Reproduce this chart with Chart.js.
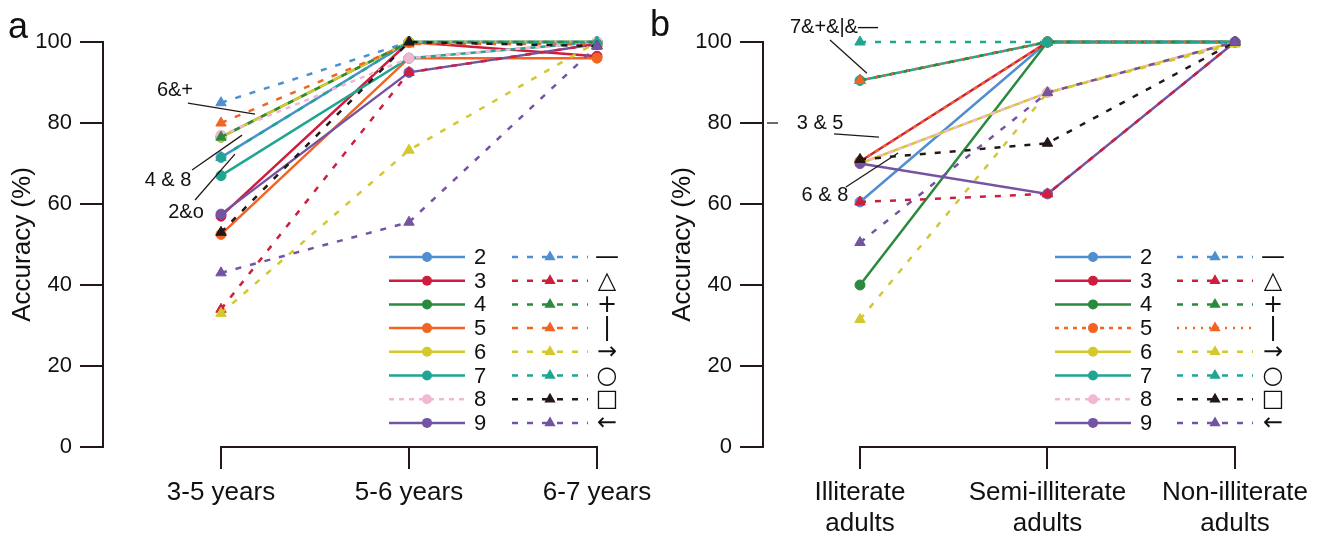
<!DOCTYPE html>
<html>
<head>
<meta charset="utf-8">
<script src="https://cdn.jsdelivr.net/npm/chart.js@4"></script>
<style>
  body { margin: 0; background: #fff; }
  #wrap { position: relative; width: 1322px; height: 539px; overflow: hidden; }
  canvas { position: absolute; top: 0; }
  .tag { position: absolute; font-family: 'Liberation Sans', Arial, sans-serif; font-size: 36px; color: #111; line-height: 1; }
</style>
</head>
<body>
<div id="wrap">
  <canvas id="chartA" width="660" height="539" style="left:0"></canvas>
  <canvas id="chartB" width="662" height="539" style="left:660px"></canvas>
  <div class="tag" style="left:8px;top:8px">a</div>
  <div class="tag" style="left:650px;top:6px">b</div>
</div>
<script>
// categories
const groupsA = ['3-5 years', '5-6 years', '6-7 years'];
const groupsB = [['Illiterate', 'adults'], ['Semi-illiterate', 'adults'], ['Non-illiterate', 'adults']];
const yTicks = [0, 20, 40, 60, 80, 100];

// series names: solid lines with circles, dashed lines with triangles
const numberLabels = ['2', '3', '4', '5', '6', '7', '8', '9'];
const symbolLabels = ['—', '△', '+', '|', '→', '○', '□', '←'];

// panel a values (accuracy %), one row per series
const numbersA = [
  [71.5, 100, 100],
  [57, 100, 96.5],
  [76.5, 100, 100],
  [52.5, 96, 96],
  [76.5, 100, 100],
  [67, 96, 100],
  [77, 96, 100],
  [57.5, 92.5, 99.5]
];
const symbolsA = [
  [85, 100, 100],
  [34, 92.5, 99.5],
  [76.5, 100, 100],
  [80, 99.5, 99.5],
  [33, 73.3, 100],
  [71.5, 100, 100],
  [53, 100, 99],
  [43, 55.5, 99]
];

// panel b values
const numbersB = [
  [60.5, 100, 100],
  [70.5, 100, 100],
  [40, 100, 100],
  [70.5, 100, 100],
  [70, 87.5, 100],
  [90.5, 100, 100],
  [70, 87.5, 100],
  [70, 62.5, 100]
];
const symbolsB = [
  [90.5, 100, 100],
  [60.5, 62.5, 100],
  [90.5, 100, 100],
  [90.5, 100, 100],
  [31.5, 87.5, 99.5],
  [100, 100, 100],
  [71, 75, 100],
  [50.5, 87.5, 100]
];

const numberColors = ['#4f8fd1', '#cf1d3e', '#2b8a3c', '#f26422', '#d3c82c', '#1fa691', '#f2b8d3', '#7453a2'];
const symbolColors = ['#4f8fd1', '#cf1d3e', '#2b8a3c', '#f26422', '#d3c82c', '#1fa691', '#231815', '#7453a2'];

const family = "'Liberation Sans', Arial, sans-serif";
const ink = '#231815';
const triDash = [6, 9];

function legendPlugin(L) {
  return {
    id: 'sideLegend',
    afterDatasetsDraw(chart) {
      const ctx = chart.ctx;
      chart.data.datasets.forEach((ds, i) => {
        const isNum = i < 8;
        const y = L.top + (i % 8) * L.step;
        const seg = isNum ? L.numLine : L.symLine;
        const cx = (seg[0] + seg[1]) / 2;
        ctx.save();
        ctx.strokeStyle = ds.borderColor;
        ctx.lineWidth = ds.borderWidth;
        ctx.setLineDash(ds.borderDash || []);
        ctx.beginPath();
        ctx.moveTo(seg[0], y);
        ctx.lineTo(seg[1], y);
        ctx.stroke();
        ctx.setLineDash([]);
        ctx.fillStyle = ds.backgroundColor;
        ctx.beginPath();
        if (isNum) {
          ctx.arc(cx, y, 5, 0, Math.PI * 2);
        } else {
          const r = 6.5;
          ctx.moveTo(cx, y - r);
          ctx.lineTo(cx + r * 0.866, y + r / 2);
          ctx.lineTo(cx - r * 0.866, y + r / 2);
          ctx.closePath();
        }
        ctx.fill();
        ctx.fillStyle = '#111';
        ctx.textBaseline = 'middle';
        if (isNum) {
          ctx.font = '22px ' + family;
          ctx.textAlign = 'left';
          ctx.fillText(ds.label, L.numText, y + 1);
        } else {
          ctx.font = '24px "DejaVu Sans"';
          ctx.textAlign = 'center';
          ctx.fillText(ds.label, L.symText, y + 1);
        }
        ctx.restore();
      });
    }
  };
}

function notePlugin(notes) {
  return {
    id: 'notes',
    afterDraw(chart) {
      const ctx = chart.ctx, sx = chart.scales.x, sy = chart.scales.y;
      ctx.save();
      ctx.strokeStyle = ink;
      ctx.lineWidth = 1.3;
      ctx.fillStyle = '#111';
      ctx.font = '20px ' + family;
      ctx.textAlign = 'center';
      ctx.textBaseline = 'middle';
      notes.forEach(n => {
        if (n.text) ctx.fillText(n.text, sx.getPixelForValue(n.tx), sy.getPixelForValue(n.ty));
        ctx.beginPath();
        ctx.moveTo(sx.getPixelForValue(n.x1), sy.getPixelForValue(n.y1));
        ctx.lineTo(sx.getPixelForValue(n.x2), sy.getPixelForValue(n.y2));
        ctx.stroke();
      });
      ctx.restore();
    }
  };
}

const bracketPlugin = {
  id: 'bracket',
  afterDraw(chart) {
    const sx = chart.scales.x, ctx = chart.ctx;
    const n = sx.ticks.length;
    ctx.save();
    ctx.strokeStyle = ink;
    ctx.lineWidth = 2;
    ctx.beginPath();
    ctx.moveTo(sx.getPixelForValue(0) - 1, chart.chartArea.bottom);
    ctx.lineTo(sx.getPixelForValue(n - 1) + 1, chart.chartArea.bottom);
    ctx.stroke();
    ctx.restore();
  }
};

function buildPanel(id, groups, nums, syms, numDash, symDash, geo, notes) {
  const datasets = [];
  nums.forEach((vals, i) => {
    datasets.push({
      label: numberLabels[i],
      data: vals.map((v, k) => ({ x: k, y: v })),
      borderColor: numberColors[i],
      backgroundColor: numberColors[i],
      pointBorderColor: numberColors[i],
      borderWidth: 2.5,
      borderDash: numDash[i],
      pointStyle: 'circle',
      pointRadius: 5,
      pointBorderWidth: 1,
      order: 20 - i,
      clip: false
    });
  });
  syms.forEach((vals, i) => {
    datasets.push({
      label: symbolLabels[i],
      data: vals.map((v, k) => ({ x: k, y: v })),
      borderColor: symbolColors[i],
      backgroundColor: symbolColors[i],
      pointBorderColor: symbolColors[i],
      borderWidth: 2.5,
      borderDash: symDash[i],
      pointStyle: 'triangle',
      pointRadius: 6,
      pointBorderWidth: 1,
      order: 12 - i,
      clip: false
    });
  });

  return new Chart(document.getElementById(id), {
    type: 'line',
    data: { datasets },
    options: {
      responsive: false,
      animation: false,
      layout: { padding: { top: 42, right: geo.padRight, bottom: 0, left: 0 } },
      elements: { line: { tension: 0 } },
      plugins: { legend: { display: false }, tooltip: { enabled: false } },
      scales: {
        x: {
          type: 'linear',
          min: geo.xmin,
          max: geo.xmax,
          afterBuildTicks: s => { s.ticks = groups.map((g, k) => ({ value: k })); },
          afterFit: s => { s.height = 92; s.paddingLeft = 0; s.paddingRight = 0; },
          ticks: {
            callback: v => groups[v],
            autoSkip: false,
            maxRotation: 0,
            padding: 8,
            color: '#111',
            font: { family, size: 26 }
          },
          grid: { drawOnChartArea: false, drawTicks: true, tickLength: 22, color: ink, lineWidth: 2 },
          border: { display: false }
        },
        y: {
          min: 0,
          max: 100,
          afterBuildTicks: s => { s.ticks = yTicks.map(v => ({ value: v })); },
          afterFit: s => { s.width = 103; },
          ticks: { padding: 8, color: '#111', font: { family, size: 22 } },
          grid: { drawOnChartArea: false, drawTicks: true, tickLength: 23, color: ink, lineWidth: 2 },
          border: { display: true, color: ink, width: 2 },
          title: {
            display: true,
            text: 'Accuracy (%)',
            color: '#111',
            font: { family, size: 26 },
            padding: { top: 7, bottom: 0 }
          }
        }
      }
    },
    plugins: [legendPlugin(geo.legend), notePlugin(notes), bracketPlugin]
  });
}

buildPanel('chartA', groupsA, numbersA, symbolsA,
  [[], [], [], [], [], [], [5, 5], []],
  [triDash, triDash, triDash, triDash, triDash, triDash, triDash, triDash],
  {
    xmin: -0.6277, xmax: 2.1755, padRight: 30,
    legend: { top: 257, step: 23.7, numLine: [389, 465], numText: 474, symLine: [512, 588], symText: 607 }
  },
  [
    { text: '6&+', tx: -0.245, ty: 88.1, x1: -0.176, y1: 84.9, x2: 0.181, y2: 82.2 },
    { text: '4 & 8', tx: -0.282, ty: 65.9, x1: -0.154, y1: 68.4, x2: 0.112, y2: 77.0 },
    { text: '2&o', tx: -0.186, ty: 58.0, x1: -0.138, y1: 61.0, x2: 0.074, y2: 72.3 }
  ]);

buildPanel('chartB', groupsB, numbersB, symbolsB,
  [[], [], [], [4, 5], [], [], [5, 5], []],
  [triDash, triDash, triDash, [2, 6], triDash, triDash, triDash, triDash],
  {
    xmin: -0.5173, xmax: 2.4, padRight: 12,
    legend: { top: 257, step: 23.7, numLine: [395, 471], numText: 480, symLine: [517, 593], symText: 613 }
  },
  [
    { text: '7&+&|&—', tx: -0.139, ty: 103.5, x1: -0.16, y1: 100.5, x2: 0.037, y2: 92.3 },
    { text: '3 & 5', tx: -0.213, ty: 80, x1: -0.139, y1: 77.3, x2: 0.101, y2: 76.5 },
    { text: '6 & 8', tx: -0.187, ty: 62.2, x1: -0.075, y1: 64.2, x2: 0.203, y2: 72.6 },
    { x1: -0.496, y1: 80, x2: -0.437, y2: 80 }
  ]);
</script>
</body>
</html>
